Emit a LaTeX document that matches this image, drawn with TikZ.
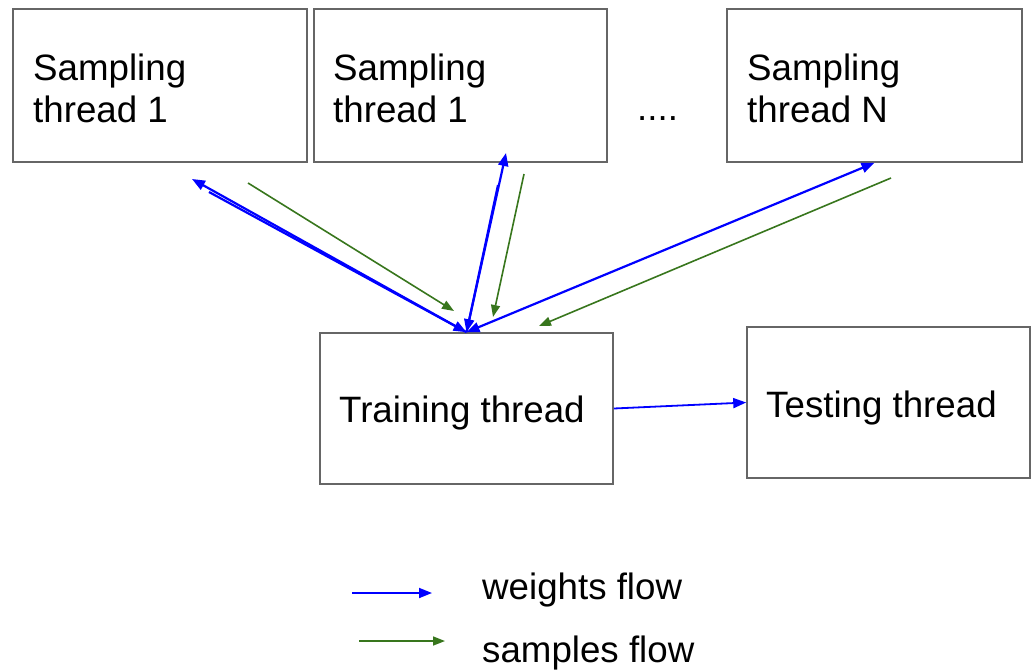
\documentclass[tikz,border=0pt]{standalone}
\usepackage{fontspec}
\setmainfont{Liberation Sans}
\usetikzlibrary{arrows.meta}
\definecolor{boxgray}{HTML}{666666}
\definecolor{wblue}{HTML}{0000FF}
\definecolor{sgreen}{HTML}{38761D}
\tikzset{
  box/.style={draw=boxgray, line width=1.6pt, fill=white, inner sep=0pt, rectangle},
  lbl/.style={inner sep=0pt, anchor=base west, font=\fontsize{36.7}{42}\selectfont},
  wflow/.style={draw=wblue, line width=2.2pt, -{Triangle[length=13pt,width=10pt]}},
  wflowb/.style={draw=wblue, line width=2.2pt, {Triangle[length=13pt,width=10pt]}-{Triangle[length=13pt,width=10pt]}},
  sflow/.style={draw=sgreen, line width=1.6pt, -{Triangle[length=12pt,width=9pt]}},
}
\begin{document}
\begin{tikzpicture}[x=1pt,y=-1pt]
\useasboundingbox (0,0) rectangle (1031,670);
% boxes
\node[box, minimum width=294pt, minimum height=153pt] (s1) at (160,85.5) {};
\node[box, minimum width=293pt, minimum height=153pt] (s2) at (460.5,85.5) {};
\node[box, minimum width=295pt, minimum height=153pt] (sN) at (874.5,85.5) {};
\node[box, minimum width=293pt, minimum height=151pt] (train) at (466.5,408.5) {};
\node[box, minimum width=283pt, minimum height=151pt] (test) at (888.5,402.5) {};
% labels
\node[lbl] (s1a) at (33,80) {Sampling};
\node[lbl] (s1b) at (33,122) {thread 1};
\node[lbl] (s2a) at (333,80) {Sampling};
\node[lbl] (s2b) at (333,122) {thread 1};
\node[lbl] (sNa) at (747,80) {Sampling};
\node[lbl] (sNb) at (747,122) {thread N};
\node[lbl] (dots) at (637,120) {....};
\node[lbl] (trainl) at (339,422) {Training thread};
\node[lbl] (testl) at (766,417) {Testing thread};
% endpoints
\coordinate (w1e) at (192,179);
\coordinate (w1s) at (209,192);
\coordinate (g1s) at (248,183);
\coordinate (g1e) at (454,311);
\coordinate (w2e) at (506,153);
\coordinate (w2s) at (498,185);
\coordinate (g2s) at (524,174);
\coordinate (g2e) at (493,317);
\coordinate (gNs) at (891,178);
\coordinate (gNe) at (539,326);
% weights flow
\draw[wflow] (train.north) -- (w1e);
\draw[wflow] (w1s) -- (train.north);
\draw[wflow] (train.north) -- (w2e);
\draw[wflow] (w2s) -- (train.north);
\draw[wflowb] (train.north) -- (sN.south);
% samples flow
\draw[sflow] (g1s) -- (g1e);
\draw[sflow] (g2s) -- (g2e);
\draw[sflow] (gNs) -- (gNe);
% training -> testing
\draw[wflow, line width=1.8pt] (train.east) -- (test.west);
% legend
\coordinate (lw1) at (352,593);
\coordinate (lw2) at (432,593);
\coordinate (lg1) at (359,641);
\coordinate (lg2) at (445,641);
\draw[wflow, line width=1.8pt] (lw1) -- (lw2);
\draw[sflow] (lg1) -- (lg2);
\node[lbl] (lwt) at (482,599) {weights flow};
\node[lbl] (lgt) at (482,662) {samples flow};
\end{tikzpicture}
\end{document}
